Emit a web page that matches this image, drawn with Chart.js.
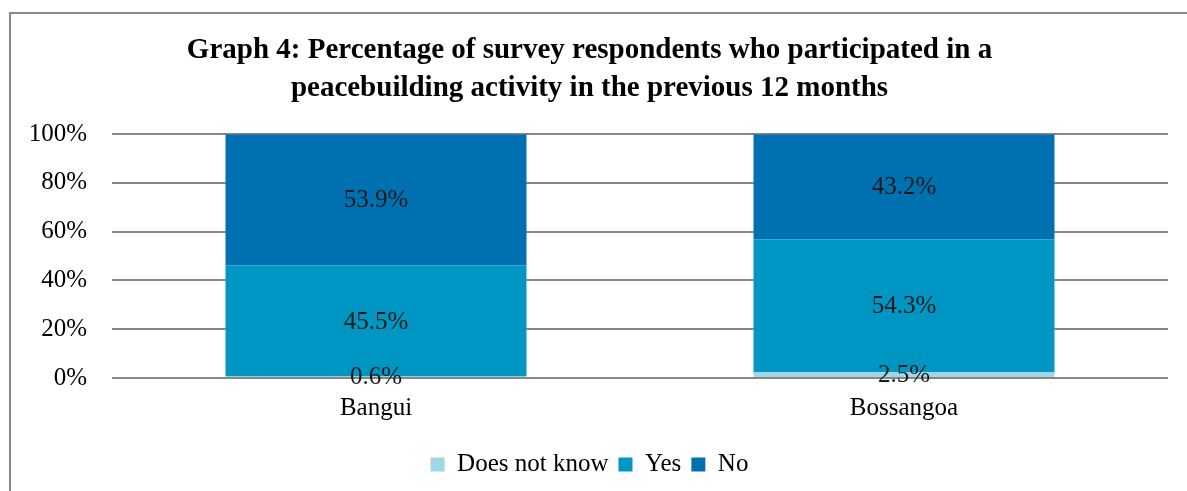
<!DOCTYPE html>
<html>
<head>
<meta charset="utf-8">
<script src="https://cdn.jsdelivr.net/npm/chart.js@4/dist/chart.umd.min.js"></script>
<style>
  html, body { margin: 0; padding: 0; background: #fff; }
  #frame {
    position: absolute; left: 9px; top: 12px;
    width: 1178px; height: 479px;
    border-left: 2px solid #888; border-top: 2px solid #888;
  }
  #chart { display: block; }
</style>
</head>
<body>
<div id="frame"><canvas id="chart" width="1176" height="477"></canvas></div>
<script>
const towns = ["Bangui", "Bossangoa"];
const doesNotKnow = [0.6, 2.5];
const yes = [45.5, 54.3];
const no = [53.9, 43.2];
const seriesNames = ["Does not know", "Yes", "No"];
const seriesColors = ["#9ed8e7", "#0096c4", "#0071b0"];
const yTicks = [0, 20, 40, 60, 80, 100];

const serif = "'Liberation Serif', 'Times New Roman', serif";

// writes each segment's value in the middle of the segment
const segmentLabels = {
  id: "segmentLabels",
  afterDatasetsDraw(chart) {
    const ctx = chart.ctx;
    ctx.save();
    ctx.font = "25px " + serif;
    ctx.fillStyle = "#1a1a1a";
    ctx.textAlign = "center";
    ctx.textBaseline = "middle";
    chart.data.datasets.forEach((ds, i) => {
      chart.getDatasetMeta(i).data.forEach((bar, j) => {
        const mid = (bar.y + bar.base) / 2;
        ctx.fillText(ds.data[j].toFixed(1) + "%", bar.x, mid + 1);
      });
    });
    ctx.restore();
  }
};

new Chart(document.getElementById("chart"), {
  type: "bar",
  data: {
    labels: towns,
    datasets: [
      { label: seriesNames[0], data: doesNotKnow, backgroundColor: seriesColors[0] },
      { label: seriesNames[1], data: yes, backgroundColor: seriesColors[1] },
      { label: seriesNames[2], data: no, backgroundColor: seriesColors[2] }
    ]
  },
  options: {
    responsive: false,
    animation: false,
    layout: { padding: { left: 0, right: 19, top: 0, bottom: 4 } },
    datasets: { bar: { categoryPercentage: 1, barPercentage: 0.57 } },
    scales: {
      x: {
        stacked: true,
        afterFit(axis) { axis.height += 4; },
        grid: { display: false, drawTicks: false },
        border: { display: false },
        ticks: { color: "#000", font: { family: serif, size: 25 }, padding: 15 }
      },
      y: {
        stacked: true,
        min: 0, max: 100,
        afterBuildTicks(axis) { axis.ticks = yTicks.map(v => ({ value: v })); },
        afterFit(axis) { axis.width = 101; },
        grid: { color: "#868686", lineWidth: 2, drawTicks: false },
        border: { display: false },
        ticks: {
          color: "#000", font: { family: serif, size: 25 }, padding: 25,
          callback: v => v + "%"
        }
      }
    },
    plugins: {
      title: {
        display: true,
        text: ["Graph 4: Percentage of survey respondents who participated in a",
               "peacebuilding activity in the previous 12 months"],
        color: "#000",
        font: { family: serif, size: 29, weight: "bold", lineHeight: 1.33 },
        padding: { top: 17, bottom: 26 }
      },
      legend: {
        position: "bottom",
        labels: {
          color: "#000", font: { family: serif, size: 25 },
          boxWidth: 14, boxHeight: 14, padding: 10
        }
      },
      tooltip: { enabled: false }
    }
  },
  plugins: [segmentLabels]
});
</script>
</body>
</html>
